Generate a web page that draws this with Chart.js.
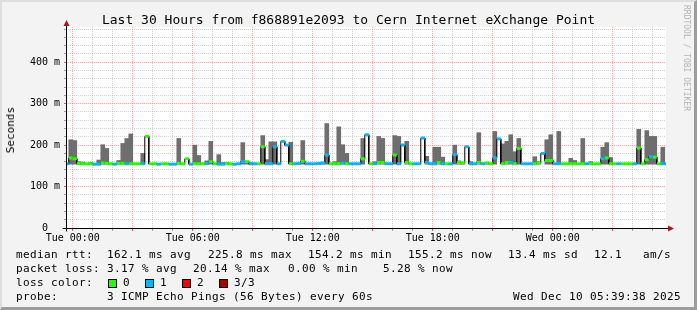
<!DOCTYPE html>
<html>
<head>
<meta charset="utf-8">
<script src="https://cdn.jsdelivr.net/npm/chart.js@4.4.1/dist/chart.umd.min.js"></script>
<style>
html, body { margin: 0; padding: 0; background: #f3f3f3; }
#wrap {
    position: relative; width: 697px; height: 310px; overflow: hidden;
    box-sizing: border-box; background: #f3f3f3;
    border-top: 2px solid #dedede; border-left: 2px solid #dedede;
    border-right: 3px solid #9c9c9c; border-bottom: 3px solid #9c9c9c;
    font-family: "DejaVu Sans Mono", monospace; color: #000;
}
#chart { position: absolute; left: -2px; top: -2px; }
.txt { position: absolute; white-space: pre; font-size: 11px; letter-spacing: 0.38px; line-height: 14px; }
#title { position: absolute; left: -2px; width: 697px; top: 10px; text-align: center; font-size: 13px; line-height: 16px; white-space: pre; }
#ylabel { position: absolute; left: 3px; top: 105px; font-size: 11px; line-height: 12px; writing-mode: vertical-rl; transform: rotate(180deg); white-space: pre; }
#mark { position: absolute; left: 680px; top: 3px; font-size: 8px; writing-mode: vertical-rl; color: #b4b4b4; white-space: pre; }
.box { position: absolute; width: 7px; height: 7px; border: 1px solid #000; }
</style>
</head>
<body>
<div id="wrap">
    <canvas id="chart" width="697" height="310"></canvas>
    <div id="title">Last 30 Hours from f868891e2093 to Cern Internet eXchange Point</div>
    <div id="ylabel">Seconds</div>
    <div id="mark">RRDTOOL / TOBI OETIKER</div>
    <div id="legend"></div>
</div>
<script>
// graph runs from Mon 23:39:38 to Wed 05:39:38, x is in minutes from the start
const spanMinutes = 1800;
const tueMidnight = 20 + 22 / 60;
const firstBin = -(3 + 38 / 60);   // first 12 min step starts at 23:36
const binMinutes = 12;
const timeLabels = ['Tue 00:00', 'Tue 06:00', 'Tue 12:00', 'Tue 18:00', 'Wed 00:00'];

// median rtt per step (ms)
const medianRtt = [
    155,169,167,156,155,155,155,154,154,157,156,155,154,156,156,155,155,155,155,155,221,155,155,154,155,
    155,154,154,156,155,167,154,155,155,155,156,160,155,154,154,155,155,154,155,160,160,155,155,155,196,
    155,155,196,155,209,200,155,155,156,161,155,155,155,156,157,176,155,155,155,157,155,155,155,155,167,
    225,155,155,158,158,155,155,176,155,200,158,155,155,155,217,158,155,155,158,155,155,155,177,158,157,
    196,155,155,158,155,157,155,169,215,155,158,158,155,192,155,155,155,155,157,180,163,163,155,155,155,
    155,155,155,155,155,155,155,155,155,167,169,155,155,155,155,155,155,155,193,155,165,172,171,155,155,155
];
// smoke: lowest and highest ping per step (ms)
const smokeMin = [
    154,154,154,154,154,154,154,154,154,154,154,154,154,154,154,154,154,154,154,154,221,154,154,154,154,
    154,154,154,154,154,167,154,154,154,154,154,154,154,154,154,154,154,154,154,154,154,154,154,154,154,
    154,154,154,154,209,200,154,154,154,154,154,154,154,154,154,154,154,154,154,154,154,154,154,154,154,
    225,154,154,154,154,154,154,154,154,200,154,154,154,154,217,154,154,154,154,154,154,154,154,154,154,
    196,154,154,154,154,154,154,154,215,154,154,154,154,154,154,154,154,154,154,180,154,154,154,154,154,
    154,154,154,154,154,154,154,154,154,154,154,154,154,154,154,154,154,154,154,154,154,154,154,154,154,154
];
const smokeMax = [
    155,213,211,160,159,155,158,154,164,201,192,155,154,163,204,216,227,155,155,180,221,155,155,154,155,
    155,154,154,216,155,167,154,200,175,155,162,209,155,177,158,158,155,154,155,206,160,158,155,155,223,
    165,208,208,155,209,200,207,155,156,211,155,155,155,156,157,252,155,160,244,201,180,155,155,155,216,
    225,155,160,221,216,155,155,223,221,200,209,155,155,155,217,173,155,195,195,171,155,155,200,162,157,
    196,160,155,230,155,157,155,233,215,203,209,225,184,216,155,155,155,172,160,180,213,225,155,233,155,
    155,168,163,155,216,155,160,155,155,195,206,170,155,155,155,155,155,155,238,155,235,221,221,155,195,155
];
// lost pings per step (0..3)
const lossCount = [
    1,0,0,0,0,0,0,1,1,0,0,0,1,0,0,1,0,0,0,1,0,0,0,1,0,
    0,1,1,0,0,0,1,0,0,0,1,0,0,1,1,0,0,1,1,1,0,1,1,0,0,
    1,1,1,1,1,1,0,1,1,0,1,1,1,1,1,1,0,0,0,1,0,1,1,1,0,
    1,0,1,0,0,1,1,0,1,1,0,0,1,1,1,1,1,1,0,1,0,1,1,0,0,
    1,1,1,0,1,0,0,1,1,0,0,1,0,0,1,1,1,0,0,1,0,0,1,1,0,
    0,0,0,0,0,1,0,0,0,1,0,0,0,1,0,0,0,1,0,0,0,1,0,0,1,1
];
const lossLabels = ['0', '1', '2', '3/3'];
const lossColors = ['#26ff00', '#00b8ff', '#ff0000', '#a00000'];

const legendRows = [
    [['median rtt:', 14], ['162.1 ms avg', 105], ['225.8 ms max', 206], ['154.2 ms min', 306],
     ['155.2 ms now', 406], ['13.4 ms sd', 506], ['12.1', 592], ['am/s', 641]],
    [['packet loss:', 14], ['3.17 % avg', 105], ['20.14 % max', 191], ['0.00 % min', 286], ['5.28 % now', 381]],
    [['loss color:', 14]],
    [['probe:', 14], ['3 ICMP Echo Pings (56 Bytes) every 60s', 105], ['Wed Dec 10 05:39:38 2025', 511]]
];
const rowTops = [246, 260, 274, 288];

// legend as html text
const legend = document.getElementById('legend');
legendRows.forEach((row, r) => {
    row.forEach(([text, x]) => {
        const el = document.createElement('div');
        el.className = 'txt';
        el.textContent = text;
        el.style.left = x + 'px';
        el.style.top = rowTops[r] + 'px';
        legend.appendChild(el);
    });
});
const swatchX = [106, 143, 180, 217];
lossLabels.forEach((lab, i) => {
    const b = document.createElement('div');
    b.className = 'box';
    b.style.left = swatchX[i] + 'px';
    b.style.top = (rowTops[2] + 3) + 'px';
    b.style.background = lossColors[i];
    legend.appendChild(b);
    const t = document.createElement('div');
    t.className = 'txt';
    t.textContent = lab;
    t.style.left = (swatchX[i] + 15) + 'px';
    t.style.top = rowTops[2] + 'px';
    legend.appendChild(t);
});

const binStart = i => firstBin + binMinutes * i;

const smokeData = medianRtt.map((m, i) => ({
    x: binStart(i) + binMinutes / 2,
    y: smokeMax[i] - smokeMin[i] >= 1 ? [smokeMin[i], smokeMax[i]] : null
}));
const stepData = medianRtt.flatMap((m, i) => [{ x: binStart(i), y: m }, { x: binStart(i) + binMinutes, y: m }]);

const majorGrid = 'rgba(255,70,70,0.42)';
const minorGrid = 'rgba(160,160,160,0.45)';
const tickFont = { family: 'DejaVu Sans Mono', size: 10 };

// white plot area and the rrdtool style axes with arrows
const plotFrame = {
    id: 'plotFrame',
    beforeDraw(chart) {
        const { ctx, chartArea: a } = chart;
        ctx.save();
        ctx.fillStyle = '#ffffff';
        ctx.fillRect(a.left, a.top, a.right - a.left, a.bottom - a.top);
        ctx.restore();
    },
    afterDraw(chart) {
        const { ctx, chartArea: a } = chart;
        const x0 = Math.round(a.left) + 0.5, y0 = Math.round(a.bottom) + 0.5;
        ctx.save();
        ctx.strokeStyle = '#000';
        ctx.lineWidth = 1;
        ctx.beginPath();
        ctx.moveTo(x0, y0 + 3); ctx.lineTo(x0, a.top - 3);
        ctx.moveTo(x0 - 4, y0); ctx.lineTo(a.right + 3, y0);
        ctx.stroke();
        ctx.fillStyle = '#9b1c1c';
        ctx.beginPath();
        ctx.moveTo(x0 - 3, a.top - 1); ctx.lineTo(x0 + 3, a.top - 1); ctx.lineTo(x0, a.top - 7);
        ctx.closePath(); ctx.fill();
        ctx.beginPath();
        ctx.moveTo(a.right + 2, y0 - 3); ctx.lineTo(a.right + 2, y0 + 3); ctx.lineTo(a.right + 8, y0);
        ctx.closePath(); ctx.fill();
        ctx.restore();
    }
};

new Chart(document.getElementById('chart'), {
    type: 'line',
    data: {
        datasets: [
            {
                type: 'line',
                data: stepData,
                borderColor: 'rgba(0,0,0,0)',
                borderWidth: 3,
                borderCapStyle: 'butt',
                pointRadius: 0,
                segment: {
                    borderColor: ctx => {
                        const a = Math.floor(ctx.p0DataIndex / 2), b = Math.floor(ctx.p1DataIndex / 2);
                        return a === b ? lossColors[lossCount[a]] : 'rgba(0,0,0,0)';
                    }
                },
                clip: { left: 0, right: 0, top: 5, bottom: 5 },
                order: 1
            },
            {
                type: 'line',
                data: stepData,
                borderColor: '#000',
                borderWidth: 1,
                pointRadius: 0,
                clip: { left: 0, right: 0, top: 5, bottom: 5 },
                order: 2
            },
            {
                type: 'bar',
                data: smokeData,
                backgroundColor: '#6e6e6e',
                borderWidth: 0,
                barPercentage: 1,
                categoryPercentage: 1,
                grouped: false,
                order: 3
            }
        ]
    },
    options: {
        responsive: false,
        maintainAspectRatio: false,
        animation: false,
        layout: { padding: { left: 0, top: 27, right: 31, bottom: 58 } },
        plugins: { legend: { display: false }, tooltip: { enabled: false } },
        scales: {
            x: {
                type: 'linear',
                min: 0,
                max: spanMinutes,
                offset: false,
                afterBuildTicks: s => {
                    s.ticks = [];
                    for (let k = 0; tueMidnight + 60 * k < spanMinutes; k++) s.ticks.push({ value: tueMidnight + 60 * k });
                },
                ticks: {
                    autoSkip: false,
                    maxRotation: 0,
                    padding: 1,
                    font: tickFont,
                    color: '#000',
                    callback: (v, i) => i % 6 === 0 ? timeLabels[i / 6] : ''
                },
                grid: {
                    offset: false,
                    color: ctx => ctx.index % 3 === 0 ? majorGrid : minorGrid,
                    tickColor: ctx => ctx.index % 3 === 0 ? '#e06060' : '#a0a0a0',
                    tickLength: 3,
                    tickBorderDash: [],
                    lineWidth: 1
                },
                border: { display: false, dash: [1, 1] },
                afterFit: s => { s.height = 24; s.paddingLeft = 0; s.paddingRight = 0; }
            },
            y: {
                type: 'linear',
                min: 0,
                max: 485,
                afterBuildTicks: s => {
                    s.ticks = [];
                    for (let v = 0; v <= 480; v += 20) s.ticks.push({ value: v });
                },
                ticks: {
                    autoSkip: false,
                    padding: 4,
                    font: tickFont,
                    color: '#000',
                    callback: v => v % 100 !== 0 ? '' : (v === 0 ? '0  ' : v + ' m')
                },
                grid: {
                    color: ctx => ctx.tick.value % 100 === 0 ? majorGrid : minorGrid,
                    tickColor: ctx => ctx.tick.value % 100 === 0 ? '#e06060' : '#a0a0a0',
                    tickLength: 2,
                    tickBorderDash: [],
                    lineWidth: 1
                },
                border: { display: false, dash: [1, 1] },
                afterFit: s => { s.width = 66; }
            }
        }
    },
    plugins: [plotFrame]
});
</script>
</body>
</html>
